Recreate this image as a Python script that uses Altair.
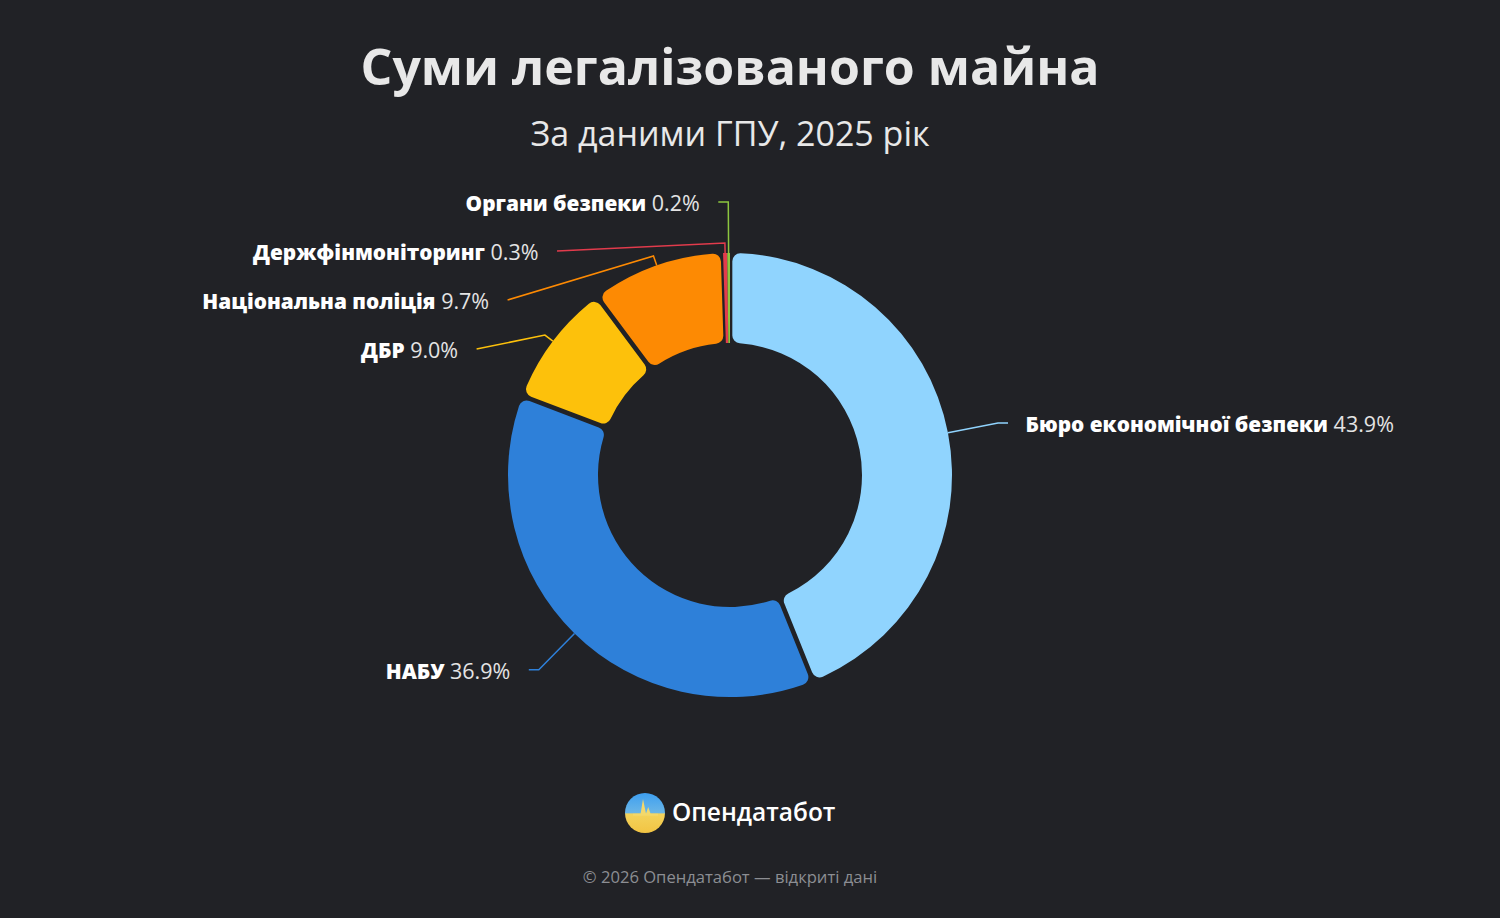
import math
import numpy as np
import pandas as pd
import altair as alt

# ---------------- data ----------------
agencies = [
    "Бюро економічної безпеки",
    "НАБУ",
    "ДБР",
    "Національна поліція",
    "Держфінмоніторинг",
    "Органи безпеки",
]
shares = [43.9, 36.9, 9.0, 9.7, 0.3, 0.2]
colors = ["#90d4fe", "#2e80d9", "#fdc10b", "#fd8a03", "#e23b4c", "#8cc63f"]

title_text = "Суми легалізованого майна"
subtitle_text = "За даними ГПУ, 2025 рік"
brand_text = "Опендатабот"
footer_text = "© 2026 Опендатабот — відкриті дані"

# ---------------- layout constants ----------------
W, H = 1500, 918
CX, CY = 730, 475
R_OUT, R_IN = 222, 132
LEN1, LEN2 = 51, 10
LABEL_R = R_OUT + LEN1 + LEN2
TEXT_GAP = 18
LINE_H = 49
FS = 21.5
FS_NAME = 20.8
BG = "#212226"

# ---------------- derived geometry ----------------
df = pd.DataFrame({"agency": agencies, "share": shares})
df["end"] = df["share"].cumsum()
df["start"] = df["end"] - df["share"]
df["pct"] = df["share"].map(lambda v: f"{v:.1f}%")
mid = (df["start"] + df["end"]) / 2 / 100 * 2 * math.pi
s, c = np.sin(mid), np.cos(mid)
df["side"] = np.where(s < 0, "left", "right")
df["x2n"] = CX + (R_OUT + LEN1) * s
df["y_nat"] = CY - (R_OUT + LEN1) * c

# resolve overlaps per side (push down)
df["ly"] = df["y_nat"]
for side in ["left", "right"]:
    idx = df[df["side"] == side].sort_values("y_nat").index
    prev = -1e9
    for i in idx:
        y = max(df.at[i, "y_nat"], prev + LINE_H)
        df.at[i, "ly"] = y
        prev = y
shifted = (df["ly"] - df["y_nat"]) > 0.5
sign = np.where(df["side"] == "left", -1, 1)
dy = df["ly"] - CY
x_ell = CX + sign * np.sqrt(np.maximum(LABEL_R ** 2 - dy ** 2, 0))
df["lx"] = np.where(shifted, x_ell, df["x2n"] + sign * LEN2)

# connector points
rows = []
for i, r in df.iterrows():
    sn, cs = s[i], c[i]
    p1 = (CX + R_OUT * sn, CY - R_OUT * cs)
    if shifted[i]:
        p2 = (CX + (R_OUT + 10) * sn, CY - (R_OUT + 10) * cs)
    else:
        p2 = (r["x2n"], r["y_nat"])
    p3 = (r["lx"], r["ly"])
    for k, (px, py) in enumerate([p1, p2, p3]):
        rows.append({"agency": r["agency"], "step": k, "px": px, "py": py})
lines = pd.DataFrame(rows)


def pct_width(t, size=FS):
    w = 0.0
    for ch in t:
        if ch.isdigit():
            w += 0.572
        elif ch == ".":
            w += 0.27
        elif ch == "%":
            w += 0.84
        else:
            w += 0.55
    return w * size


SPACE = 0.26 * FS
NAME_K = 0.605
df["tx"] = df["lx"] + sign * TEXT_GAP
name_w = df["agency"].str.len() * NAME_K * FS_NAME
pw = df["pct"].map(pct_width)
df["name_x"] = np.where(df["side"] == "left", df["tx"] - pw - SPACE, df["tx"] + name_w)
df["pct_x"] = df["name_x"] + SPACE
df["ty"] = df["ly"] + 3

# ---------------- chart ----------------
xs = alt.Scale(domain=[0, W], range=[0, W], nice=False, zero=False)
ys = alt.Scale(domain=[0, H], range=[0, H], nice=False, zero=False)
ts = alt.Scale(domain=[0, 100], range=[0, 2 * math.pi])
col = alt.Color("agency:N", scale=alt.Scale(domain=agencies, range=colors), legend=None)

big = df[df["share"] >= 1]
tiny = df[df["share"] < 1]

arcs_big = alt.Chart(big).mark_arc(
    radius=R_OUT, radius2=R_IN, padAngle=0.018, cornerRadius=8, x=CX, y=CY
).encode(theta=alt.Theta("start:Q", scale=ts), theta2="end:Q", color=col)

arcs_tiny = alt.Chart(tiny).mark_arc(
    radius=R_OUT, radius2=R_IN, x=CX, y=CY
).encode(theta=alt.Theta("start:Q", scale=ts), theta2="end:Q", color=col)

conn = alt.Chart(lines).mark_line(strokeWidth=1.5).encode(
    x=alt.X("px:Q", scale=xs, axis=None),
    y=alt.Y("py:Q", scale=ys, axis=None),
    color=col,
    detail="agency:N",
    order="step:Q",
)

names = alt.Chart(df).mark_text(
    align="right", baseline="middle", font="Open Sans", fontSize=FS_NAME, fontWeight=800, color="#ffffff"
).encode(
    x=alt.X("name_x:Q", scale=xs, axis=None),
    y=alt.Y("ty:Q", scale=ys, axis=None),
    text="agency:N",
)

pcts = alt.Chart(df).mark_text(
    align="left", baseline="middle", font="Open Sans", fontSize=FS, color="#e4e4e4"
).encode(
    x=alt.X("pct_x:Q", scale=xs, axis=None),
    y=alt.Y("ty:Q", scale=ys, axis=None),
    text="pct:N",
)


def label(txt, x, y, **kw):
    return alt.Chart(pd.DataFrame({"t": [txt]})).mark_text(font="Open Sans", **kw).encode(
        text="t:N", x=alt.value(x), y=alt.value(y)
    )


title = label(title_text, CX, 85, fontSize=50, fontWeight="bold", color="#e8e8e8",
              align="center", baseline="alphabetic")
subtitle = label(subtitle_text, CX, 146, fontSize=34, color="#e8e8e8",
                 align="center", baseline="alphabetic")
footer = label(footer_text, CX, 878, fontSize=16.6, color="#8c8e93", align="center", baseline="middle")
brand = label(brand_text, 672, 814, fontSize=24.5, fontWeight=600, color="#ffffff",
              align="left", baseline="middle")

logo_grad = alt.Gradient(
    gradient="linear",
    stops=[
        alt.GradientStop(color="#3d9ff0", offset=0),
        alt.GradientStop(color="#6bb6e6", offset=0.5),
        alt.GradientStop(color="#f3d35c", offset=0.52),
        alt.GradientStop(color="#f2c443", offset=1),
    ],
    x1=0, x2=0, y1=0, y2=1,
)
logo = alt.Chart(pd.DataFrame({"t": [brand_text]})).mark_point(
    shape="circle", size=1600, filled=True, fill=logo_grad, opacity=1, strokeWidth=0
).encode(x=alt.value(645), y=alt.value(813))

pulse = alt.Chart(pd.DataFrame({"t": [brand_text]})).mark_point(
    shape="M -0.6 0.04 L -0.22 0.04 L -0.1 -0.7 L 0.05 0.04 L 0.16 -0.3 L 0.28 0.04 L 0.65 0.04 L 0.65 0.14 L -0.6 0.14 Z",
    size=1600, filled=True, fill="#f4d86a", opacity=1, strokeWidth=0
).encode(x=alt.value(645), y=alt.value(813))

chart = alt.layer(
    arcs_big, arcs_tiny, conn, names, pcts, title, subtitle, logo, pulse, brand, footer
).properties(
    width=W, height=H, background=BG, padding=0, autosize=alt.AutoSizeParams(type="none")
).configure_view(stroke=None)

chart.save("out.html", embed_options={"renderer": "svg", "actions": False})
